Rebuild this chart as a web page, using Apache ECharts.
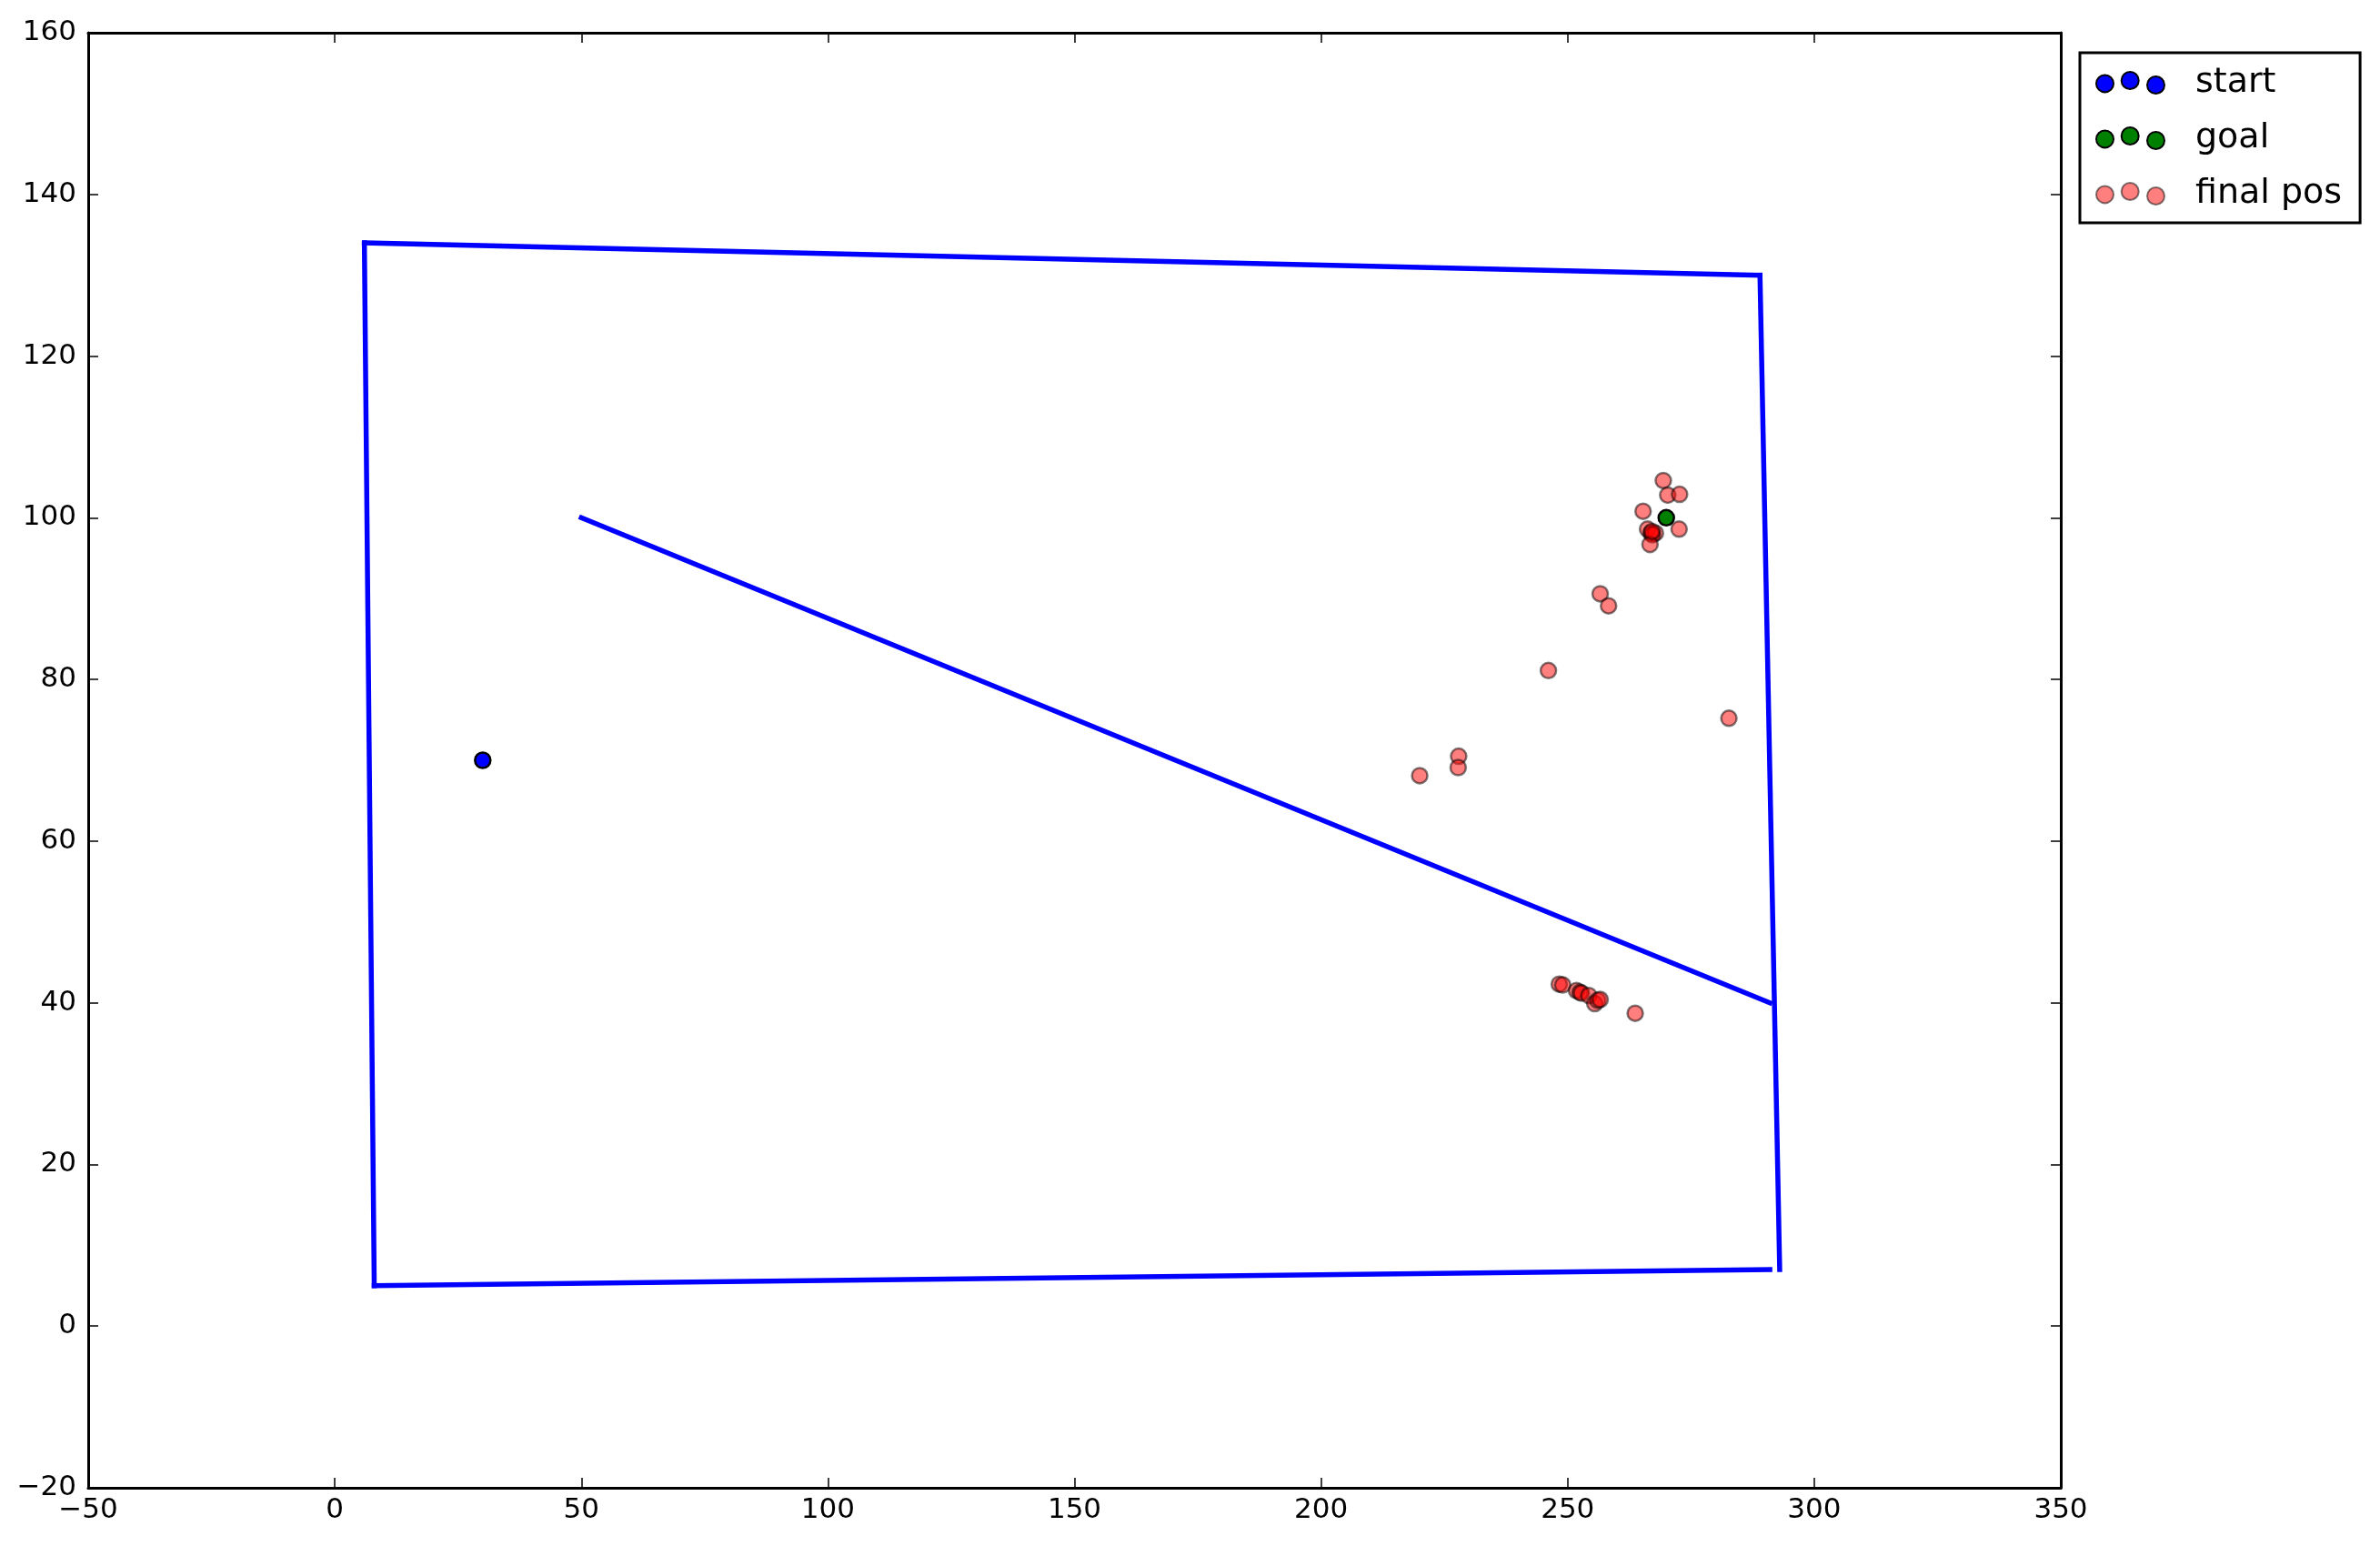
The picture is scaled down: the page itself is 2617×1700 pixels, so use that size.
<!DOCTYPE html>
<html>
<head>
<meta charset="utf-8">
<script src="https://cdn.jsdelivr.net/npm/echarts@6/dist/echarts.min.js"></script>
<style>
  html, body { margin: 0; padding: 0; background: #fff; }
  #chart { width: 2617px; height: 1700px; }
</style>
</head>
<body>
<div id="chart"></div>
<script>
// wall segments
var wallLeft = [[6, 134], [8, 5]];
var wallTop = [[6, 134], [289, 130]];
var wallRight = [[289, 130], [293, 7]];
var wallBottom = [[8, 5], [291, 7]];
var wallDiag = [[50, 100], [291, 40]];

var startPos = [[30, 70]];
var goalPos = [[270, 100]];
var finalPos = [
  [269.4, 104.6], [270.3, 102.8], [272.7, 102.9], [265.3, 100.8],
  [272.6, 98.6], [266.2, 98.6], [266.9, 98.1], [267.8, 98.1],
  [267.2, 97.9], [266.7, 96.7], [267.1, 98.3],
  [256.6, 90.6], [258.3, 89.1], [246.1, 81.1], [282.7, 75.2],
  [227.9, 70.5], [227.8, 69.1], [220.0, 68.1],
  [248.3, 42.3], [249.0, 42.2], [251.8, 41.5], [252.5, 41.3],
  [252.8, 41.2], [254.3, 40.9], [255.5, 39.9], [256.1, 40.3],
  [256.6, 40.4], [263.7, 38.7]
];

var xTicks = { min: -50, max: 350, interval: 50 };
var yTicks = { min: -20, max: 160, interval: 20 };

// three scattered dots, like matplotlib's legend scatterpoints
var threeDots = 'path://M0,12.9a9.5,9.5 0 1,0 19,0a9.5,9.5 0 1,0 -19,0Z' +
  'M27.7,9.5a9.5,9.5 0 1,0 19,0a9.5,9.5 0 1,0 -19,0Z' +
  'M56,14.5a9.5,9.5 0 1,0 19,0a9.5,9.5 0 1,0 -19,0Z';

var font = 'DejaVu Sans';
var minus = function (v) { return String(v).replace('-', '\u2212'); };

function axisBase(extra) {
  var a = {
    type: 'value',
    splitLine: { show: false },
    axisLine: { show: true, onZero: false, lineStyle: { color: '#000', width: 3 } },
    axisTick: { show: true, inside: true, length: 11, lineStyle: { color: '#000', width: 1.5 } },
    axisLabel: { color: '#000', fontFamily: font, fontSize: 31, formatter: minus }
  };
  return Object.assign(a, extra);
}

function wall(data) {
  return {
    type: 'line', data: data, xAxisIndex: 0, yAxisIndex: 0,
    symbol: 'none', silent: true, z: 3,
    lineStyle: { color: '#0000ff', width: 5.5, cap: 'square' }
  };
}

var chart = echarts.init(document.getElementById('chart'));
chart.setOption({
  animation: false,
  backgroundColor: '#fff',
  grid: { left: 97, right: 351, top: 36, bottom: 64 },
  xAxis: [
    axisBase({ position: 'bottom', min: xTicks.min, max: xTicks.max, interval: xTicks.interval,
      axisLabel: { color: '#000', fontFamily: font, fontSize: 31, margin: 9, formatter: minus } }),
    axisBase({ position: 'top', min: xTicks.min, max: xTicks.max, interval: xTicks.interval,
      axisLabel: { show: false } })
  ],
  yAxis: [
    axisBase({ position: 'left', min: yTicks.min, max: yTicks.max, interval: yTicks.interval,
      axisLabel: { color: '#000', fontFamily: font, fontSize: 31, margin: 13, formatter: minus } }),
    axisBase({ position: 'right', min: yTicks.min, max: yTicks.max, interval: yTicks.interval,
      axisLabel: { show: false } })
  ],
  legend: {
    orient: 'vertical',
    left: 2287, top: 58,
    padding: [14, 20, 13, 17],
    itemWidth: 75, itemHeight: 24, itemGap: 23,
    backgroundColor: '#fff',
    borderColor: '#000', borderWidth: 3, borderRadius: 0,
    textStyle: { color: '#000', fontFamily: font, fontSize: 38, padding: [0, 0, 0, 29] },
    data: [
      { name: 'start', icon: threeDots },
      { name: 'goal', icon: threeDots },
      { name: 'final pos', icon: threeDots }
    ]
  },
  series: [
    wall(wallLeft), wall(wallTop), wall(wallRight), wall(wallBottom), wall(wallDiag),
    {
      name: 'start', type: 'scatter', data: startPos, symbolSize: 17, z: 2,
      itemStyle: { color: '#0000ff', borderColor: '#000', borderWidth: 2.5, opacity: 1 }
    },
    {
      name: 'goal', type: 'scatter', data: goalPos, symbolSize: 17, z: 2,
      itemStyle: { color: '#008000', borderColor: '#000', borderWidth: 2.5, opacity: 1 }
    },
    {
      name: 'final pos', type: 'scatter', data: finalPos, symbolSize: 17, z: 2,
      itemStyle: { color: '#ff0000', borderColor: '#000', borderWidth: 2.5, opacity: 0.5 }
    }
  ]
});
</script>
</body>
</html>
